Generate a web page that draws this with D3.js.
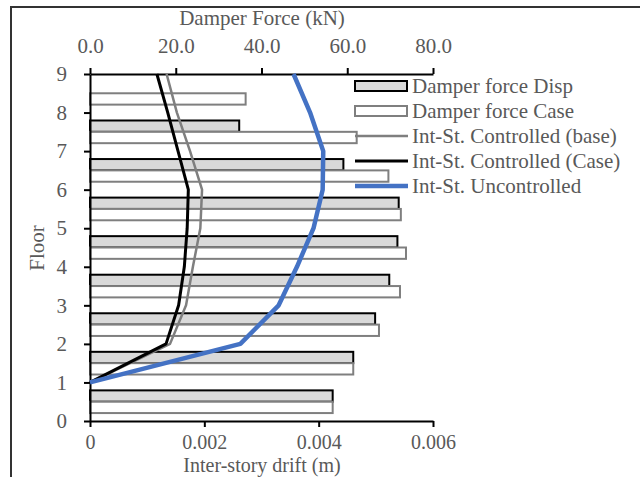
<!DOCTYPE html>
<html lang="en">
<head>
    <meta charset="utf-8">
    <title>Damper force and inter-story drift</title>
    <script type="text/javascript" src="https://cdn.jsdelivr.net/npm/d3@7"></script>
    <style>
        body { margin: 0; background: #fff; }
        text { font-family: "Liberation Serif", "Times New Roman", serif; }
    </style>
</head>
<body>
<script type="text/javascript">

    // floors for the drift lines
    var floors = [1, 2, 3, 4, 5, 6, 7, 8, 9];
    // story bands for the damper force bars (band 9 = between floor 8 and 9)
    var stories = [1, 2, 3, 4, 5, 6, 7, 8, 9];

    // damper force (kN)
    var forceDisp = [56.6, 61.4, 66.5, 69.8, 71.7, 72.0, 59.1, 34.8, 0];
    var forceCase = [56.6, 61.4, 67.4, 72.3, 73.7, 72.5, 69.6, 62.2, 36.3];

    // inter-story drift (m)
    var driftBase = [0, 0.0014, 0.00168, 0.0018, 0.00193, 0.00196, 0.00175, 0.00152, 0.00134];
    var driftCase = [0, 0.00133, 0.00155, 0.00165, 0.0017, 0.00172, 0.00154, 0.00136, 0.00117];
    var driftUnc = [0, 0.00263, 0.0033, 0.00362, 0.00391, 0.00407, 0.00408, 0.00385, 0.00356];

    var driftTicks = [0, 0.002, 0.004, 0.006];
    var forceTicks = [0, 20, 40, 60, 80];
    var floorTicks = [0, 1, 2, 3, 4, 5, 6, 7, 8, 9];

    var legendItems = ["Damper force Disp", "Damper force Case", "Int-St. Controlled (base)",
        "Int-St. Controlled (Case)", "Int-St. Uncontrolled"];

    var W = 640, H = 477;
    var textColor = "#595959";
    var fontSize = "21px";

    var svg = d3.select("body").append("svg")
        .attr("width", W)
        .attr("height", H);

    //outer frame
    svg.append("rect")
        .attr("x", 11)
        .attr("y", 7)
        .attr("width", W + 20)
        .attr("height", H + 20)
        .style("fill", "none")
        .style("stroke", "#333")
        .style("stroke-width", 2);

    var xDrift = d3.scaleLinear().domain([0, 0.006]).range([90, 433]);
    var xForce = d3.scaleLinear().domain([0, 80]).range([90, 433]);
    var yFloor = d3.scaleLinear().domain([0, 9]).range([421, 74]);

    // band for each story, story 1 at the bottom
    var yStory = d3.scaleBand()
        .domain(stories)
        .range([yFloor(0), yFloor(9)]);

    // two bars inside each band, Disp on top
    var ySub = d3.scaleBand()
        .domain(["Disp", "Case"])
        .range([0, yStory.bandwidth()])
        .paddingOuter(0.7);

    var bars = [];
    stories.forEach(function (s, i) {
        bars.push({story: s, series: "Disp", value: forceDisp[i]});
        bars.push({story: s, series: "Case", value: forceCase[i]});
    });

    //Bars
    svg.selectAll("rect.bar")
        .data(bars.filter(function (d) { return d.value > 0; }))
        .enter()
        .append("rect")
        .attr("class", "bar")
        .attr("x", xForce(0))
        .attr("y", function (d) { return yStory(d.story) + ySub(d.series); })
        .attr("width", function (d) { return xForce(d.value) - xForce(0); })
        .attr("height", ySub.bandwidth())
        .style("fill", function (d) { return d.series == "Disp" ? "#d9d9d9" : "#fff"; })
        .style("stroke", function (d) { return d.series == "Disp" ? "#000" : "#7f7f7f"; })
        .style("stroke-width", 2);

    //Axis
    function styleAxis(g, size) {
        g.select(".domain").style("stroke", "#000").style("stroke-width", 2);
        g.selectAll(".tick line").style("stroke", "#000").style("stroke-width", 2);
        g.selectAll(".tick text")
            .style("font-size", size || fontSize)
            .style("font-family", "'Liberation Serif', 'Times New Roman', serif")
            .style("fill", textColor);
    }

    svg.append("g")
        .attr("transform", "translate(0," + yFloor(0) + ")")
        .call(d3.axisBottom(xDrift)
            .tickValues(driftTicks)
            .tickSize(6)
            .tickSizeOuter(0)
            .tickPadding(8)
            .tickFormat(function (d) { return d === 0 ? "0" : d3.format(".3f")(d); }))
        .call(styleAxis, "20px");

    svg.append("g")
        .attr("transform", "translate(0," + yFloor(9) + ")")
        .call(d3.axisTop(xForce)
            .tickValues(forceTicks)
            .tickSize(6)
            .tickSizeOuter(0)
            .tickPadding(15)
            .tickFormat(d3.format(".1f")))
        .call(styleAxis);

    svg.append("g")
        .attr("transform", "translate(" + xDrift(0) + ",0)")
        .call(d3.axisLeft(yFloor)
            .tickValues(floorTicks)
            .tickSize(6)
            .tickSizeOuter(0)
            .tickPadding(17)
            .tickFormat(d3.format("d")))
        .call(styleAxis);

    //Axis titles
    svg.append("text")
        .attr("x", 262)
        .attr("y", 25)
        .style("text-anchor", "middle")
        .style("font-size", fontSize)
        .style("fill", textColor)
        .text("Damper Force (kN)");

    svg.append("text")
        .attr("x", 262)
        .attr("y", 472)
        .style("text-anchor", "middle")
        .style("font-size", "20px")
        .style("fill", textColor)
        .text("Inter-story drift (m)");

    svg.append("text")
        .attr("transform", "translate(44,248) rotate(-90)")
        .style("text-anchor", "middle")
        .style("font-size", fontSize)
        .style("fill", textColor)
        .text("Floor");

    //Drift lines
    var lineSeries = [
        {values: driftBase, color: "#7f7f7f", width: 2.5},
        {values: driftCase, color: "#000", width: 3},
        {values: driftUnc, color: "#4472c4", width: 4.5}
    ];

    var line = d3.line()
        .x(function (d) { return xDrift(d.drift); })
        .y(function (d) { return yFloor(d.floor); });

    lineSeries.forEach(function (s) {
        svg.append("path")
            .datum(floors.map(function (f, i) { return {floor: f, drift: s.values[i]}; }))
            .attr("d", line)
            .style("fill", "none")
            .style("stroke", s.color)
            .style("stroke-width", s.width)
            .style("stroke-linejoin", "round");
    });

    //Legend
    var legend = svg.append("g").attr("transform", "translate(355,86)");
    var rowH = 25;

    legendItems.forEach(function (name, i) {
        var row = legend.append("g").attr("transform", "translate(0," + (i * rowH) + ")");
        if (i < 2) {
            row.append("rect")
                .attr("x", 0).attr("y", -5)
                .attr("width", 52).attr("height", 10)
                .style("fill", i == 0 ? "#d9d9d9" : "#fff")
                .style("stroke", i == 0 ? "#000" : "#7f7f7f")
                .style("stroke-width", 2);
        } else {
            var s = lineSeries[i - 2];
            row.append("line")
                .attr("x1", 0).attr("x2", 53)
                .attr("y1", 0).attr("y2", 0)
                .style("stroke", s.color)
                .style("stroke-width", s.width);
        }
        row.append("text")
            .attr("x", 57)
            .attr("y", 0)
            .attr("dy", "0.35em")
            .style("font-size", fontSize)
            .style("fill", textColor)
            .text(name);
    });

</script>
</body>
</html>
